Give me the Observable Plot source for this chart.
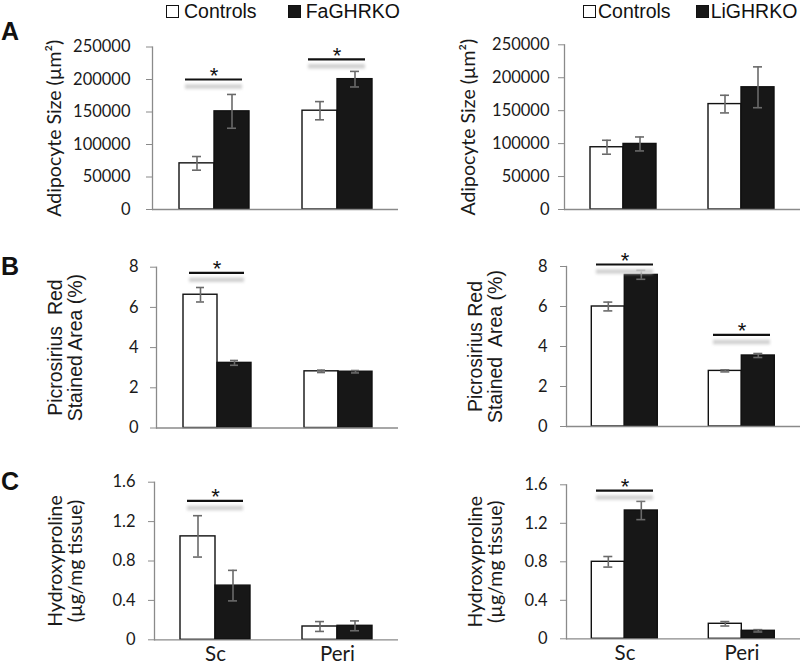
<!DOCTYPE html>
<html>
<head>
<meta charset="utf-8">
<script src="https://cdn.jsdelivr.net/npm/d3@7"></script>
<script src="https://cdn.jsdelivr.net/npm/@observablehq/plot@0.6"></script>
<style>
  body { margin: 0; background: #fff; }
  #wrap { position: relative; width: 800px; height: 665px; overflow: hidden; font-family: Lato, sans-serif; }
  .panel { position: absolute; width: 400px; }
  .panel svg { overflow: visible; }
  .letter { position: absolute; left: 1px; font: bold 25px "Liberation Sans", Arial, sans-serif; line-height: 25px; color: #111; }
  .legend { position: absolute; top: 0; height: 22px; display: flex; align-items: center; font: 19.5px "Liberation Sans", Arial, sans-serif; color: #111; white-space: nowrap; }
  .sw { display: inline-block; width: 11px; height: 11px; border: 1.4px solid #111; background: #fff; }
  .sw.ko { background: #171717; }
  .sig-shadow { filter: blur(1.6px); }
</style>
</head>
<body>
<div id="wrap"></div>
<script>
// ---------- data ----------
const groups = ["Sc", "Peri"];
const ctrlName = "Controls";
const faName = "FaGHRKO";
const liName = "LiGHRKO";

const sizeTicks = [0, 50000, 100000, 150000, 200000, 250000];
const pctTicks = [0, 2, 4, 6, 8];
const hypTicks = [0, 0.4, 0.8, 1.2, 1.6];

// A: adipocyte size
const aFaCtrl = [71000, 152000];
const aFaCtrlErr = [10500, 14000];
const aFaKo = [151000, 200500];
const aFaKoErr = [26000, 12000];
const aFaSigGroups = ["Sc", "Peri"];
const aFaSigY = [200000, 231000];

const aLiCtrl = [94500, 160000];
const aLiCtrlErr = [10600, 13400];
const aLiKo = [99500, 185500];
const aLiKoErr = [10600, 31000];
const aLiSigGroups = [];
const aLiSigY = [];

// B: picrosirius red stained area
const bFaCtrl = [6.63, 2.82];
const bFaCtrlErr = [0.36, 0.06];
const bFaKo = [3.24, 2.80];
const bFaKoErr = [0.12, 0.06];
const bFaSigGroups = ["Sc"];
const bFaSigY = [7.72];

const bLiCtrl = [6.0, 2.78];
const bLiCtrlErr = [0.22, 0.05];
const bLiKo = [7.58, 3.55];
const bLiKoErr = [0.22, 0.10];
const bLiSigGroups = ["Sc", "Peri"];
const bLiSigY = [8.1, 4.58];

// C: hydroxyproline
const cFaCtrl = [1.05, 0.135];
const cFaCtrlErr = [0.21, 0.05];
const cFaKo = [0.55, 0.142];
const cFaKoErr = [0.155, 0.05];
const cFaSigGroups = ["Sc"];
const cFaSigY = [1.41];

const cLiCtrl = [0.80, 0.156];
const cLiCtrlErr = [0.055, 0.023];
const cLiKo = [1.333, 0.083];
const cLiKoErr = [0.095, 0.012];
const cLiSigGroups = ["Sc"];
const cLiSigY = [1.54];

// ---------- drawing ----------
const wrap = document.getElementById("wrap");
const axisGray = "#8a8a8a";
const errGray = "#6a6a6a";
const calibri = "Lato, sans-serif";
const arial = "'Liberation Sans', Arial, sans-serif";

function panel(o) {
  const data = groups.flatMap((g, i) => [
    {group: g, series: ctrlName, value: o.ctrl[i], err: o.ctrlErr[i]},
    {group: g, series: o.ko, value: o.koV[i], err: o.koErr[i]}
  ]);
  const sig = o.sigGroups.map((g, i) => ({group: g, y: o.sigY[i]}));
  const marks = [
    Plot.barY(data, {fx: "group", x: "series", y: "value", fill: "series", stroke: "#111", strokeWidth: 1.4}),
    Plot.ruleY([0], {stroke: axisGray, strokeWidth: 1.3}),
    Plot.frame({anchor: "left", facetAnchor: "left", stroke: axisGray, strokeWidth: 1.3}),
    Plot.axisY({ticks: o.ticks, tickFormat: d => String(d), tickSize: 6, tickPadding: o.tickPad,
      stroke: axisGray, fill: "#1a1a1a", fontSize: 16.5, label: null}),
    Plot.axisY({ticks: [], label: o.label, labelAnchor: "center", labelOffset: o.labelOffset, labelArrow: false,
      fontSize: o.labelSize, fontFamily: o.labelFont, fill: "#1a1a1a"}),
    Plot.ruleX(data, {fx: "group", x: "series", y1: d => d.value - d.err, y2: d => d.value + d.err, stroke: errGray, strokeWidth: 1.6}),
    Plot.tickY(data, {fx: "group", x: "series", y: d => d.value + d.err, stroke: errGray, strokeWidth: 1.6, insetLeft: o.cap, insetRight: o.cap}),
    Plot.tickY(data, {fx: "group", x: "series", y: d => d.value - d.err, stroke: errGray, strokeWidth: 1.6, insetLeft: o.cap, insetRight: o.cap}),
    Plot.ruleY(sig, {fx: "group", y: "y", dy: 7, stroke: "#d0d0d0", strokeWidth: 4.5, insetLeft: o.sigInset, insetRight: o.sigInset, className: "sig-shadow"}),
    Plot.ruleY(sig, {fx: "group", y: "y", stroke: "#111", strokeWidth: 2.2, insetLeft: o.sigInset, insetRight: o.sigInset}),
    Plot.text(sig, {fx: "group", y: "y", text: () => "*", dy: -3.5, fontSize: 22, fontFamily: arial, fill: "#111"})
  ];
  if (o.showX) marks.push(Plot.axisFx({anchor: "bottom", tickSize: 0, tickPadding: 7, fontSize: 20.5, label: null, fill: "#1a1a1a"}));
  const chart = Plot.plot({
    width: 400,
    height: o.height,
    marginTop: o.mt, marginBottom: o.mb, marginLeft: o.ml, marginRight: o.mr,
    style: {fontFamily: calibri, background: "transparent", overflow: "visible"},
    fx: {domain: groups, padding: 0, axis: null, label: null},
    x: {domain: [ctrlName, o.ko], paddingInner: 0, paddingOuter: o.pad, axis: null},
    y: {domain: [o.ticks[0], o.ticks[o.ticks.length - 1]]},
    color: {domain: [ctrlName, o.ko], range: ["#ffffff", "#171717"]},
    marks
  });
  const div = document.createElement("div");
  div.className = "panel";
  div.style.left = o.left + "px";
  div.style.top = o.top + "px";
  div.appendChild(chart);
  wrap.appendChild(div);
}

const leftCol = {left: 0, ko: faName, mr: 2, pad: 0.73, cap: 13, sigInset: 33};
const rightCol = {left: 400, ko: liName, mr: 0, pad: 0.77, cap: 12, sigInset: 30};

// Row A
panel({...leftCol, top: 0, height: 225, mt: 46.5, mb: 16, ml: 152, tickPad: 16,
  ctrl: aFaCtrl, ctrlErr: aFaCtrlErr, koV: aFaKo, koErr: aFaKoErr, sigGroups: aFaSigGroups, sigY: aFaSigY,
  ticks: sizeTicks, label: "Adipocyte Size (µm²)", labelOffset: 105, labelSize: 19.5, labelFont: calibri});
panel({...rightCol, top: 0, height: 225, mt: 44.3, mb: 16, ml: 163, tickPad: 9,
  ctrl: aLiCtrl, ctrlErr: aLiCtrlErr, koV: aLiKo, koErr: aLiKoErr, sigGroups: aLiSigGroups, sigY: aLiSigY,
  ticks: sizeTicks, label: "Adipocyte Size (µm²)", labelOffset: 103, labelSize: 19.5, labelFont: calibri});
// Row B
panel({...leftCol, top: 225, height: 215, mt: 41.7, mb: 12.5, ml: 155, tickPad: 12,
  ctrl: bFaCtrl, ctrlErr: bFaCtrlErr, koV: bFaKo, koErr: bFaKoErr, sigGroups: bFaSigGroups, sigY: bFaSigY,
  ticks: pctTicks, label: "Picrosirius  Red\nStained Area (%)", labelOffset: 108, labelSize: 19.5, labelFont: arial});
panel({...rightCol, top: 225, height: 215, mt: 41, mb: 14, ml: 165.7, tickPad: 13,
  ctrl: bLiCtrl, ctrlErr: bLiCtrlErr, koV: bLiKo, koErr: bLiKoErr, sigGroups: bLiSigGroups, sigY: bLiSigY,
  ticks: pctTicks, label: "Picrosirius Red\nStained  Area (%)", labelOffset: 98, labelSize: 19.5, labelFont: arial});
// Row C
panel({...leftCol, top: 440, height: 225, mt: 41.7, mb: 25.7, ml: 154, tickPad: 13, showX: true,
  ctrl: cFaCtrl, ctrlErr: cFaCtrlErr, koV: cFaKo, koErr: cFaKoErr, sigGroups: cFaSigGroups, sigY: cFaSigY,
  ticks: hypTicks, label: "Hydroxyproline\n(µg/mg tissue)", labelOffset: 106, labelSize: 19.5, labelFont: calibri});
panel({...rightCol, top: 440, height: 225, mt: 44.3, mb: 26.7, ml: 165.7, tickPad: 13, showX: true,
  ctrl: cLiCtrl, ctrlErr: cLiCtrlErr, koV: cLiKo, koErr: cLiKoErr, sigGroups: cLiSigGroups, sigY: cLiSigY,
  ticks: hypTicks, label: "Hydroxyproline\n(µg/mg tissue)", labelOffset: 98, labelSize: 19.5, labelFont: calibri});

// Legends
function legend(left, koName, gapAfterSquare, gapBetween) {
  const d = document.createElement("div");
  d.className = "legend";
  d.style.left = left + "px";
  d.innerHTML = `<span class="sw"></span><span style="margin-left:${gapAfterSquare}px">${ctrlName}</span>` +
    `<span class="sw ko" style="margin-left:${gapBetween}px"></span><span style="margin-left:${gapAfterSquare}px">${koName}</span>`;
  wrap.appendChild(d);
}
legend(166, faName, 5, 31);
legend(583, liName, 2, 25);

// Panel letters
[["A", 19], ["B", 254], ["C", 469]].forEach(([t, top]) => {
  const d = document.createElement("div");
  d.className = "letter";
  d.style.top = top + "px";
  d.textContent = t;
  wrap.appendChild(d);
});
</script>
</body>
</html>
